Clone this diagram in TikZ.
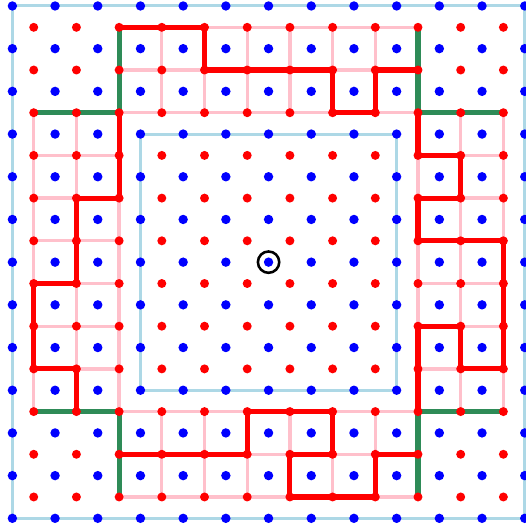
\documentclass[tikz,border=0pt]{standalone}
\usepackage{tikz}

\definecolor{frame}{RGB}{173,216,230}
\definecolor{bandline}{RGB}{255,192,203}
\definecolor{seam}{RGB}{46,139,87}

\begin{document}
\begin{tikzpicture}[
  bdot/.style={fill=blue},
  rdot/.style={fill=red},
  border/.style={draw=frame,line width=2pt},
  band/.style={draw=bandline,line width=2.2pt},
  seamline/.style={draw=seam,line width=3.4pt},
  cut/.style={draw=red,line width=3.4pt,line join=round,line cap=round},
  origin/.style={circle,draw=black,line width=1.7pt,minimum size=0.5cm,inner sep=0pt}]

\useasboundingbox (-0.29,-0.25) rectangle (12.01,12.14);

% --- lattice points ----------------------------------------------------
\foreach \i in {0,...,12}
  \foreach \j in {0,...,12}
    \coordinate (b-\i-\j) at (\i,\j);
\foreach \i in {0,...,11}
  \foreach \j in {0,...,11}
    \coordinate (r-\i-\j) at (\i+0.5,\j+0.5);

% --- outer and inner squares -------------------------------------------
\draw[border] (b-0-0) rectangle (b-12-12);
\draw[border] (b-3-3) rectangle (b-9-9);

% --- bands -------------------------------------------------------------
% top
\foreach \y in {9,10,11} \draw[band] (r-2-\y) -- (r-9-\y);
\foreach \x in {2,...,9} \draw[band] (r-\x-9) -- (r-\x-11);
% bottom
\foreach \y in {0,1,2} \draw[band] (r-2-\y) -- (r-9-\y);
\foreach \x in {2,...,9} \draw[band] (r-\x-0) -- (r-\x-2);
% left
\foreach \y in {2,...,9} \draw[band] (r-0-\y) -- (r-2-\y);
\foreach \x in {0,1,2} \draw[band] (r-\x-2) -- (r-\x-9);
% right
\foreach \y in {2,...,9} \draw[band] (r-9-\y) -- (r-11-\y);
\foreach \x in {9,10,11} \draw[band] (r-\x-2) -- (r-\x-9);

% --- corner seams ------------------------------------------------------
\draw[seamline] (r-0-9) -- (r-2-9) -- (r-2-11);
\draw[seamline] (r-9-11) -- (r-9-9) -- (r-11-9);
\draw[seamline] (r-0-2) -- (r-2-2) -- (r-2-0);
\draw[seamline] (r-9-0) -- (r-9-2) -- (r-11-2);

% --- cut paths ---------------------------------------------------------
\draw[cut] (r-2-11) -- (r-4-11) -- (r-4-10) -- (r-7-10) -- (r-7-9)
  -- (r-8-9) -- (r-8-10) -- (r-9-10);
\draw[cut] (r-9-9) -- (r-9-8) -- (r-10-8) -- (r-10-7) -- (r-9-7)
  -- (r-9-6) -- (r-11-6) -- (r-11-3) -- (r-10-3) -- (r-10-4)
  -- (r-9-4) -- (r-9-2);
\draw[cut] (r-9-1) -- (r-8-1) -- (r-8-0) -- (r-6-0) -- (r-6-1)
  -- (r-7-1) -- (r-7-2) -- (r-5-2) -- (r-5-1) -- (r-2-1);
\draw[cut] (r-1-2) -- (r-1-3) -- (r-0-3) -- (r-0-5) -- (r-1-5)
  -- (r-1-7) -- (r-2-7) -- (r-2-9);

% --- dots --------------------------------------------------------------
\foreach \i in {0,...,11}
  \foreach \j in {0,...,11}
    \fill[rdot] (r-\i-\j) circle (0.105);
\foreach \i in {0,...,12}
  \foreach \j in {0,...,12}
    \fill[bdot] (b-\i-\j) circle (0.11);

\node[origin] (o) at (b-6-6) {};
\end{tikzpicture}
\end{document}
